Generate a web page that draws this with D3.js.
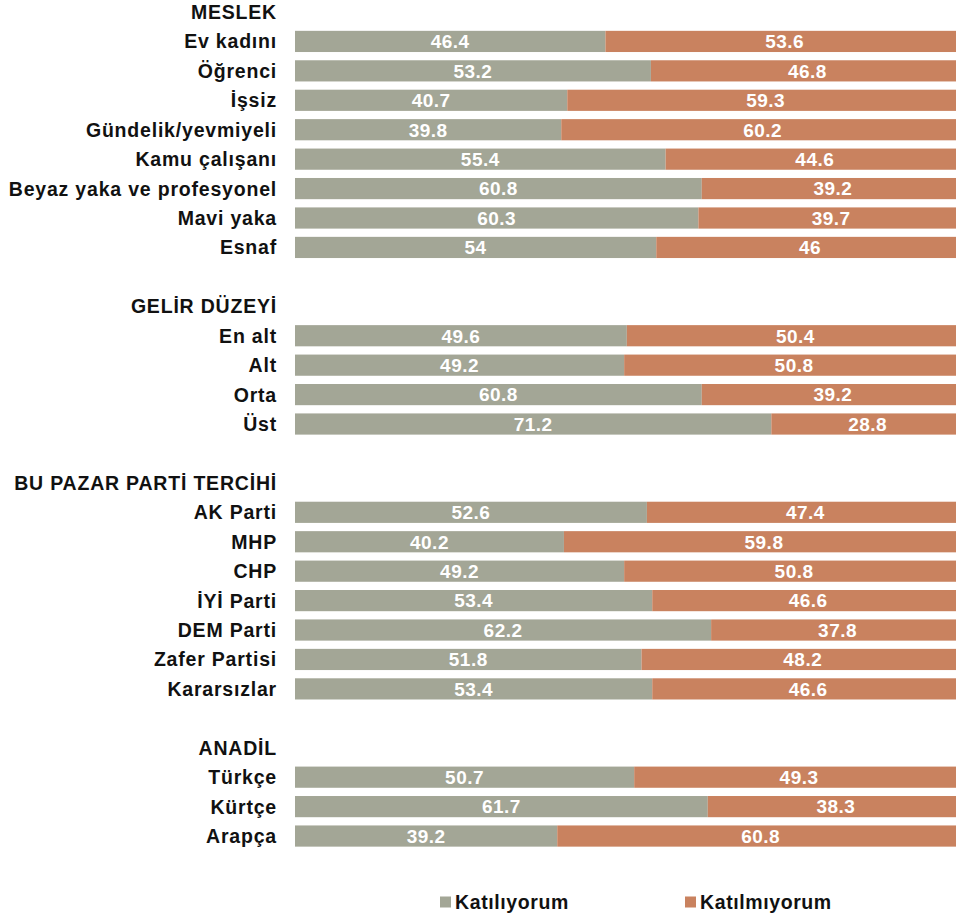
<!DOCTYPE html>
<html lang="tr">
<head>
<meta charset="UTF-8">
<title>Katılıyorum / Katılmıyorum</title>
<script src="https://d3js.org/d3.v7.min.js"></script>
<style>
  body { margin: 0; background: #fff; }
  text { font-family: "Liberation Sans", Arial, Helvetica, sans-serif; font-weight: bold; }
</style>
</head>
<body>
<svg id="chart" width="956" height="918"></svg>
<script>
// group headers
const groups = ["MESLEK", "GELİR DÜZEYİ", "BU PAZAR PARTİ TERCİHİ", "ANADİL"];

// categories per group
const meslekCats = ["Ev kadını", "Öğrenci", "İşsiz", "Gündelik/yevmiyeli", "Kamu çalışanı",
                    "Beyaz yaka ve profesyonel", "Mavi yaka", "Esnaf"];
const gelirCats = ["En alt", "Alt", "Orta", "Üst"];
const partiCats = ["AK Parti", "MHP", "CHP", "İYİ Parti", "DEM Parti", "Zafer Partisi", "Kararsızlar"];
const anadilCats = ["Türkçe", "Kürtçe", "Arapça"];

// Katılıyorum values
const meslekAgree = [46.4, 53.2, 40.7, 39.8, 55.4, 60.8, 60.3, 54];
const gelirAgree = [49.6, 49.2, 60.8, 71.2];
const partiAgree = [52.6, 40.2, 49.2, 53.4, 62.2, 51.8, 53.4];
const anadilAgree = [50.7, 61.7, 39.2];

// Katılmıyorum values
const meslekDisagree = [53.6, 46.8, 59.3, 60.2, 44.6, 39.2, 39.7, 46];
const gelirDisagree = [50.4, 50.8, 39.2, 28.8];
const partiDisagree = [47.4, 59.8, 50.8, 46.6, 37.8, 48.2, 46.6];
const anadilDisagree = [49.3, 38.3, 60.8];

const seriesNames = ["Katılıyorum", "Katılmıyorum"];
const colors = ["#a3a696", "#c9825f"];

// build the row list: header, items, spacer
const groupCats = [meslekCats, gelirCats, partiCats, anadilCats];
const groupAgree = [meslekAgree, gelirAgree, partiAgree, anadilAgree];
const groupDisagree = [meslekDisagree, gelirDisagree, partiDisagree, anadilDisagree];

const rows = [];
groups.forEach((g, gi) => {
  if (gi > 0) rows.push({ type: "blank", key: "blank" + gi });
  rows.push({ type: "header", key: "h" + gi, label: g });
  groupCats[gi].forEach((c, ci) => {
    rows.push({ type: "item", key: "i" + gi + "_" + ci, label: c,
                agree: groupAgree[gi][ci], disagree: groupDisagree[gi][ci] });
  });
});

const svg = d3.select("#chart");
const step = 29.43;
const y = d3.scaleBand()
  .domain(rows.map(d => d.key))
  .range([12 - step / 2, 12 - step / 2 + step * rows.length])
  .paddingInner(0.28)
  .paddingOuter(0.14);

const x = d3.scaleLinear().domain([0, 100]).range([295, 964]);
const labelX = 277;

const items = rows.filter(d => d.type === "item");

// bars
const barG = svg.append("g");
barG.selectAll(".agree")
  .data(items).enter().append("rect")
  .attr("class", "agree")
  .attr("x", x(0))
  .attr("y", d => y(d.key))
  .attr("width", d => x(d.agree) - x(0))
  .attr("height", y.bandwidth())
  .attr("fill", colors[0]);

barG.selectAll(".disagree")
  .data(items).enter().append("rect")
  .attr("class", "disagree")
  .attr("x", d => x(d.agree))
  .attr("y", d => y(d.key))
  .attr("width", d => x(d.agree + d.disagree) - x(d.agree))
  .attr("height", y.bandwidth())
  .attr("fill", colors[1]);

// value labels
const valFmt = v => String(v);
barG.selectAll(".vAgree")
  .data(items).enter().append("text")
  .attr("x", d => (x(0) + x(d.agree)) / 2)
  .attr("y", d => y(d.key) + y.bandwidth() / 2)
  .attr("dy", "0.36em")
  .attr("text-anchor", "middle")
  .attr("fill", "#fff")
  .style("font-size", "19px")
  .style("letter-spacing", "0.5px")
  .text(d => valFmt(d.agree));

barG.selectAll(".vDisagree")
  .data(items).enter().append("text")
  .attr("x", d => (x(d.agree) + x(d.agree + d.disagree)) / 2)
  .attr("y", d => y(d.key) + y.bandwidth() / 2)
  .attr("dy", "0.36em")
  .attr("text-anchor", "middle")
  .attr("fill", "#fff")
  .style("font-size", "19px")
  .style("letter-spacing", "0.5px")
  .text(d => valFmt(d.disagree));

// row labels + headers
svg.append("g").selectAll("text")
  .data(rows.filter(d => d.type !== "blank")).enter().append("text")
  .attr("x", labelX)
  .attr("y", d => y(d.key) + y.bandwidth() / 2)
  .attr("dy", "0.36em")
  .attr("text-anchor", "end")
  .attr("fill", "#111")
  .style("font-size", "19.5px")
  .style("letter-spacing", "0.8px")
  .text(d => d.label);

// legend
const legendX = [440, 685];
const legend = svg.append("g").selectAll("g")
  .data(seriesNames).enter().append("g")
  .attr("transform", (d, i) => `translate(${legendX[i]},902)`);

legend.append("rect")
  .attr("x", 0).attr("y", -5.5)
  .attr("width", 11).attr("height", 11)
  .attr("fill", (d, i) => colors[i]);

legend.append("text")
  .attr("x", 15)
  .attr("dy", "0.36em")
  .attr("fill", "#111")
  .style("font-size", "19.5px")
  .style("letter-spacing", "0.6px")
  .text(d => d);
</script>
</body>
</html>
